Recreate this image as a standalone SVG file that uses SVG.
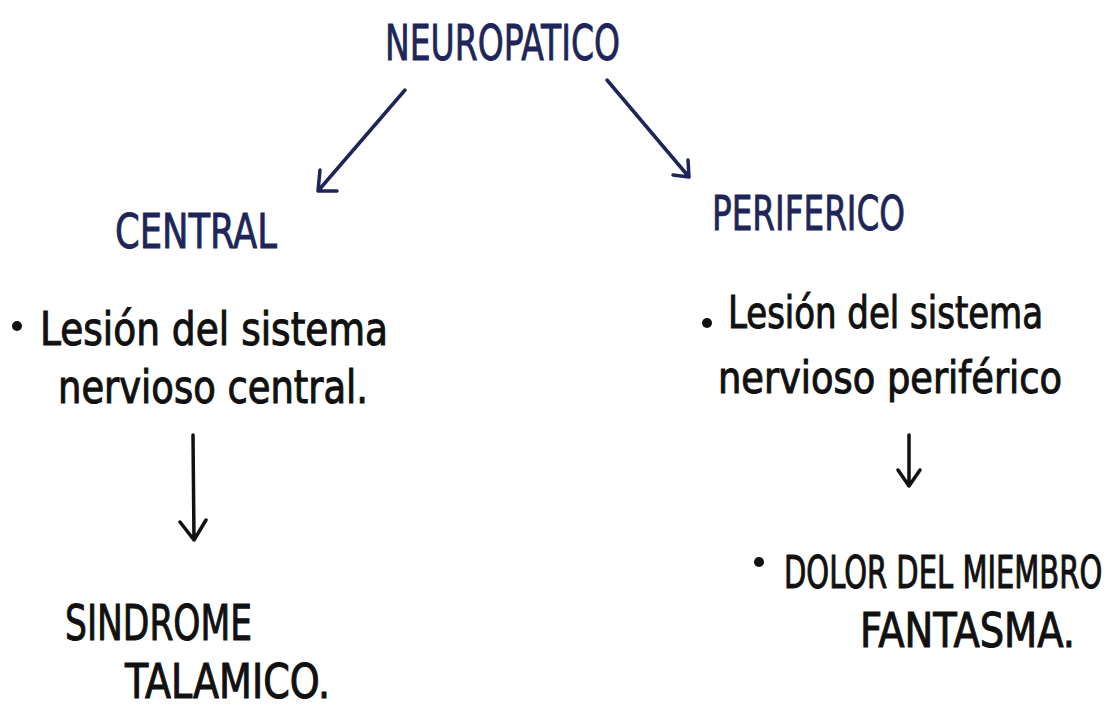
<svg xmlns="http://www.w3.org/2000/svg" width="1117" height="707" viewBox="0 0 1117 707">
<style>
.navy{fill:#1d2559;stroke:#1d2559;stroke-width:0.8;font-family:"DejaVu Sans Condensed","Liberation Sans",sans-serif;}
.ink{fill:#111;stroke:#111;stroke-width:1;font-family:"DejaVu Sans Condensed","Liberation Sans",sans-serif;}
.an{stroke:#1d2559;stroke-width:3.5;fill:none;stroke-linecap:round;stroke-linejoin:round;}
.ak{stroke:#111;stroke-width:3.5;fill:none;stroke-linecap:round;stroke-linejoin:round;}
</style>
<rect width="1117" height="707" fill="#ffffff"/>
<g id="neuropatico"><text class="navy" x="385" y="60" font-size="50" textLength="235" lengthAdjust="spacingAndGlyphs">NEUROPATICO</text></g>
<g id="central"><text class="navy" x="115" y="248" font-size="48" textLength="162" lengthAdjust="spacingAndGlyphs">CENTRAL</text></g>
<g id="periferico"><text class="navy" x="712" y="230" font-size="48" textLength="193" lengthAdjust="spacingAndGlyphs">PERIFERICO</text></g>
<g id="lesion-central">
<circle cx="17" cy="326" r="5" fill="#111"/>
<text class="ink" x="40" y="345" font-size="46" textLength="348" lengthAdjust="spacingAndGlyphs">Lesión del sistema</text>
<text class="ink" x="58" y="403" font-size="46" textLength="310" lengthAdjust="spacingAndGlyphs">nervioso central.</text>
</g>
<g id="lesion-periferico">
<circle cx="707" cy="323" r="5" fill="#111"/>
<text class="ink" x="728" y="328" font-size="44" textLength="315" lengthAdjust="spacingAndGlyphs">Lesión del sistema</text>
<text class="ink" x="718" y="393" font-size="44" textLength="344" lengthAdjust="spacingAndGlyphs">nervioso periférico</text>
</g>
<g id="sindrome">
<text class="ink" x="65" y="640" font-size="50" textLength="187" lengthAdjust="spacingAndGlyphs">SINDROME</text>
<text class="ink" x="125" y="698" font-size="48" textLength="205" lengthAdjust="spacingAndGlyphs">TALAMICO.</text>
</g>
<g id="dolor">
<circle cx="759" cy="562" r="5" fill="#111"/>
<text class="ink" transform="translate(784,588) scale(0.68,1)" x="0" y="0" font-size="44" textLength="468" lengthAdjust="spacingAndGlyphs">DOLOR DEL MIEMBRO</text>
<text class="ink" x="860" y="647" font-size="48" textLength="215" lengthAdjust="spacingAndGlyphs">FANTASMA.</text>
</g>
<g id="connectors">
<path class="an" d="M405 90 L318 191 M320 170 L318 191 L337 191"/>
<path class="an" d="M607 80 L689 177 M673 175 L689 177 L688 160"/>
<path class="ak" d="M193 435 L194 540 M180 522 L194 540 L206 520"/>
<path class="ak" d="M909 435 L909 486 M898 470 L909 486 L920 470"/>
</g>
</svg>
